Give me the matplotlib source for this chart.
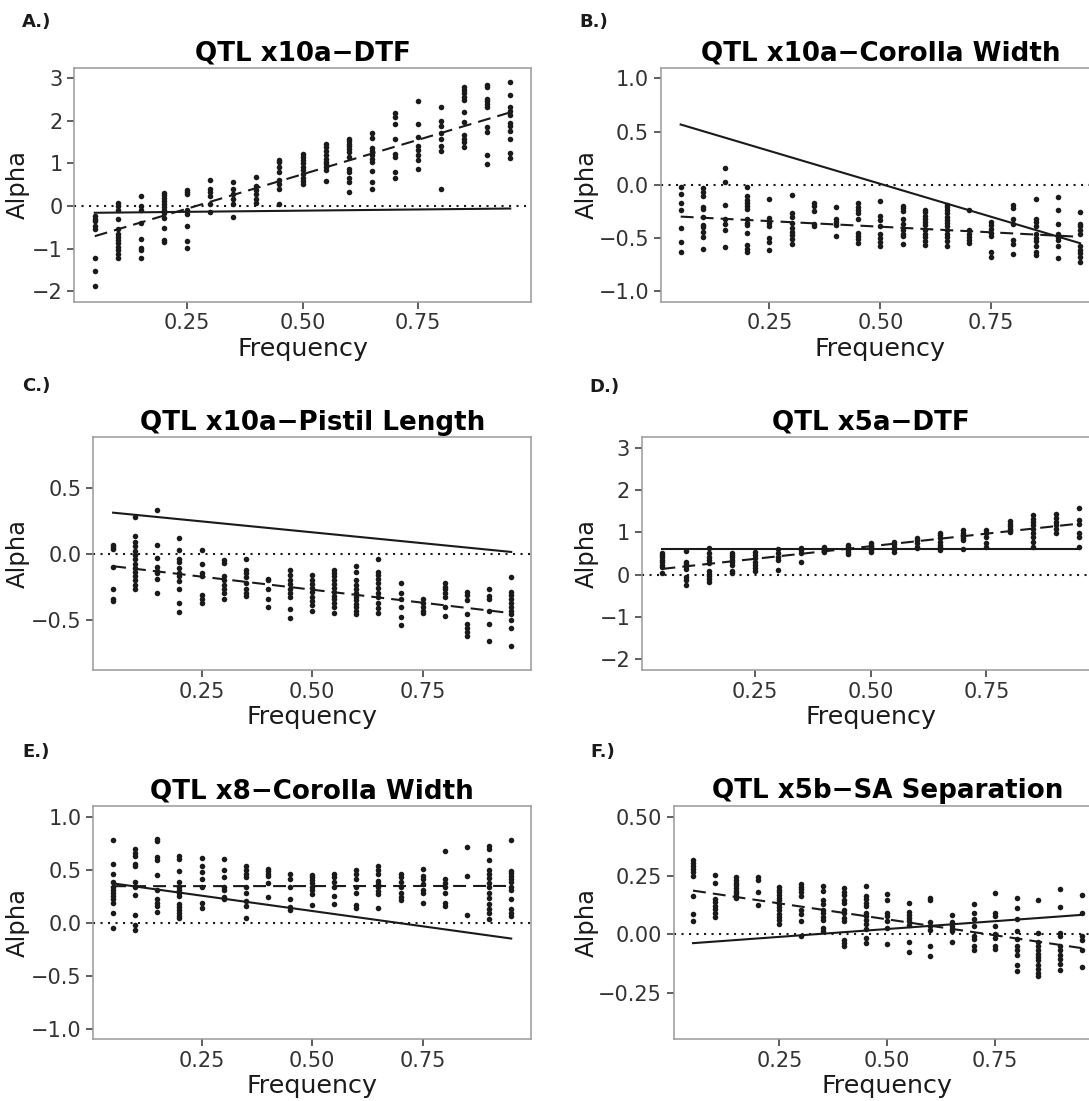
import numpy as np
import matplotlib.pyplot as plt

# allele frequency classes shared by every panel
freqs = [0.05, 0.10, 0.15, 0.20, 0.25, 0.30, 0.35, 0.40, 0.45, 0.50,
         0.55, 0.60, 0.65, 0.70, 0.75, 0.80, 0.85, 0.90, 0.95]

# A.) QTL x10a-DTF, one list of alpha values per frequency
x10a_dtf = [
    [-0.23, -0.30, -0.35, -0.47, -0.53, -1.23, -1.52, -1.88],
    [0.07, 0.0, -0.09, -0.31, -0.55, -0.65, -0.73, -0.80, -0.88, -0.96, -1.04, -1.12, -1.23],
    [0.23, 0.0, -0.09, -0.41, -0.77, -0.98, -1.04, -1.23],
    [0.31, 0.25, 0.19, 0.12, 0.05, -0.02, -0.09, -0.16, -0.29, -0.52, -0.79, -0.85],
    [0.38, 0.32, 0.27, -0.10, -0.20, -0.46, -0.83, -0.98],
    [0.60, 0.41, 0.34, 0.23, 0.05, -0.14],
    [0.56, 0.39, 0.27, 0.17, 0.05, -0.26],
    [0.67, 0.48, 0.37, 0.27, 0.17, 0.07],
    [1.09, 1.03, 0.91, 0.80, 0.60, 0.51, 0.41, 0.05],
    [1.21, 1.15, 1.09, 1.02, 0.91, 0.84, 0.74, 0.66, 0.59, 0.52],
    [1.45, 1.38, 1.30, 1.19, 1.11, 1.03, 0.98, 0.91, 0.84, 0.59],
    [1.58, 1.52, 1.46, 1.40, 1.34, 1.27, 1.15, 0.86, 0.80, 0.66, 0.56, 0.33],
    [1.72, 1.59, 1.37, 1.29, 1.19, 1.11, 1.03, 0.82, 0.56, 0.41],
    [2.18, 2.09, 1.93, 1.58, 1.23, 1.16, 0.80, 0.66],
    [2.46, 1.93, 1.63, 1.42, 1.32, 1.19, 1.09, 0.88],
    [2.32, 1.99, 1.89, 1.71, 1.58, 1.40, 1.30, 0.41],
    [2.79, 2.73, 2.65, 2.57, 2.48, 2.20, 1.98, 1.66, 1.58, 1.50, 1.38],
    [2.85, 2.79, 2.52, 2.46, 2.40, 2.32, 1.85, 1.73, 1.19, 0.98],
    [2.91, 2.61, 2.32, 2.24, 2.13, 1.95, 1.89, 1.76, 1.58, 1.24, 1.13],
]
x10a_dtf_fit = [-0.71, 2.20]
x10a_dtf_null = [-0.16, -0.06]

# B.) QTL x10a-Corolla Width
x10a_cw = [
    [-0.02, -0.09, -0.17, -0.24, -0.41, -0.54, -0.63],
    [-0.03, -0.07, -0.11, -0.21, -0.23, -0.30, -0.38, -0.40, -0.44, -0.49, -0.60],
    [0.16, 0.03, -0.19, -0.32, -0.37, -0.43, -0.59],
    [-0.02, -0.11, -0.14, -0.17, -0.20, -0.23, -0.32, -0.36, -0.38, -0.45, -0.57, -0.60, -0.63],
    [-0.13, -0.31, -0.36, -0.39, -0.50, -0.54, -0.61],
    [-0.10, -0.27, -0.30, -0.36, -0.41, -0.44, -0.47, -0.51, -0.56],
    [-0.17, -0.20, -0.25, -0.37, -0.39],
    [-0.21, -0.32, -0.35, -0.38, -0.48],
    [-0.17, -0.21, -0.24, -0.27, -0.32, -0.45, -0.48, -0.51, -0.55],
    [-0.15, -0.29, -0.33, -0.39, -0.46, -0.50, -0.54, -0.58],
    [-0.20, -0.22, -0.25, -0.32, -0.37, -0.43, -0.46, -0.48, -0.56],
    [-0.24, -0.26, -0.29, -0.32, -0.35, -0.38, -0.43, -0.46, -0.49, -0.53, -0.57],
    [-0.19, -0.21, -0.24, -0.27, -0.30, -0.33, -0.36, -0.39, -0.43, -0.46, -0.49, -0.53, -0.58],
    [-0.24, -0.43, -0.46, -0.49, -0.52, -0.55],
    [-0.35, -0.38, -0.42, -0.45, -0.48, -0.63, -0.68],
    [-0.19, -0.22, -0.32, -0.37, -0.52, -0.56, -0.65],
    [-0.13, -0.32, -0.35, -0.39, -0.46, -0.50, -0.53, -0.58, -0.63, -0.66],
    [-0.12, -0.24, -0.37, -0.46, -0.49, -0.52, -0.58, -0.69],
    [-0.26, -0.37, -0.39, -0.43, -0.46, -0.58, -0.61, -0.64, -0.68, -0.73],
]
x10a_cw_fit = [-0.30, -0.49]
x10a_cw_null = [0.566, -0.55]

# C.) QTL x10a-Pistil Length
x10a_pl = [
    [0.065, 0.048, 0.033, -0.10, -0.27, -0.34, -0.36],
    [0.28, 0.13, 0.09, 0.06, 0.02, -0.01, -0.04, -0.08, -0.11, -0.14, -0.17, -0.20, -0.24, -0.27],
    [0.33, 0.065, -0.035, -0.10, -0.13, -0.15, -0.19, -0.30],
    [0.12, 0.03, -0.04, -0.06, -0.11, -0.15, -0.17, -0.21, -0.27, -0.37, -0.44],
    [0.03, -0.08, -0.15, -0.17, -0.31, -0.34, -0.37],
    [-0.05, -0.07, -0.17, -0.20, -0.24, -0.27, -0.30, -0.34],
    [-0.04, -0.12, -0.15, -0.18, -0.22, -0.27, -0.30, -0.32],
    [-0.19, -0.20, -0.27, -0.34, -0.40],
    [-0.12, -0.16, -0.20, -0.23, -0.27, -0.30, -0.33, -0.42, -0.49],
    [-0.16, -0.20, -0.23, -0.26, -0.29, -0.33, -0.36, -0.39, -0.43],
    [-0.12, -0.15, -0.17, -0.20, -0.23, -0.26, -0.29, -0.32, -0.34, -0.37, -0.40, -0.45],
    [-0.09, -0.14, -0.20, -0.24, -0.27, -0.30, -0.33, -0.35, -0.38, -0.40, -0.43, -0.46],
    [-0.04, -0.14, -0.16, -0.19, -0.22, -0.26, -0.30, -0.33, -0.37, -0.41, -0.45],
    [-0.22, -0.30, -0.34, -0.40, -0.48, -0.54],
    [-0.34, -0.37, -0.40, -0.43, -0.45],
    [-0.22, -0.25, -0.27, -0.30, -0.33, -0.40, -0.47],
    [-0.29, -0.31, -0.35, -0.46, -0.53, -0.56, -0.59, -0.62],
    [-0.27, -0.32, -0.34, -0.43, -0.53, -0.66],
    [-0.18, -0.29, -0.31, -0.34, -0.37, -0.40, -0.43, -0.46, -0.50, -0.56, -0.70],
]
x10a_pl_fit = [-0.095, -0.45]
x10a_pl_null = [0.31, 0.013]

# D.) QTL x5a-DTF
x5a_dtf = [
    [0.52, 0.47, 0.41, 0.35, 0.30, 0.24, 0.18, 0.04],
    [0.57, 0.31, 0.26, 0.20, 0.13, -0.05, -0.13, -0.23],
    [0.63, 0.52, 0.43, 0.35, 0.29, 0.10, 0.02, -0.04, -0.10, -0.18],
    [0.52, 0.47, 0.41, 0.35, 0.30, 0.24, 0.08, 0.04],
    [0.55, 0.47, 0.39, 0.31, 0.23, 0.16, 0.08],
    [0.60, 0.51, 0.43, 0.35, 0.12],
    [0.63, 0.59, 0.51, 0.31],
    [0.65, 0.59, 0.54],
    [0.70, 0.65, 0.59, 0.55, 0.48],
    [0.76, 0.70, 0.65, 0.59, 0.55],
    [0.78, 0.73, 0.66, 0.60, 0.55],
    [0.88, 0.82, 0.76, 0.66, 0.63],
    [0.99, 0.94, 0.86, 0.78, 0.70, 0.65, 0.59],
    [1.05, 0.99, 0.94, 0.88, 0.82, 0.60],
    [1.07, 0.98, 0.90, 0.76, 0.65],
    [1.27, 1.21, 1.15, 1.09, 1.02],
    [1.41, 1.33, 1.25, 1.17, 1.09, 0.98, 0.90, 0.78, 0.66],
    [1.43, 1.35, 1.25, 1.17, 1.09, 0.98],
    [1.59, 1.29, 1.21, 0.98, 0.90, 0.65],
]
x5a_dtf_fit = [0.14, 1.21]
x5a_dtf_null = [0.61, 0.61]

# E.) QTL x8-Corolla Width
x8_cw = [
    [0.78, 0.55, 0.46, 0.38, 0.34, 0.31, 0.28, 0.25, 0.22, 0.19, 0.09, -0.05],
    [0.69, 0.66, 0.63, 0.55, 0.53, 0.38, 0.34, 0.26, 0.07, -0.02, -0.07],
    [0.79, 0.77, 0.62, 0.59, 0.45, 0.31, 0.22, 0.19, 0.16, 0.10],
    [0.63, 0.60, 0.49, 0.38, 0.34, 0.31, 0.28, 0.25, 0.18, 0.15, 0.12, 0.09, 0.06, 0.04],
    [0.61, 0.53, 0.48, 0.41, 0.34, 0.19, 0.14],
    [0.60, 0.50, 0.43, 0.34, 0.31, 0.24, 0.22],
    [0.53, 0.50, 0.46, 0.43, 0.34, 0.28, 0.20, 0.16, 0.04],
    [0.51, 0.49, 0.46, 0.44, 0.37, 0.24],
    [0.46, 0.41, 0.34, 0.22, 0.15, 0.12],
    [0.45, 0.43, 0.40, 0.37, 0.34, 0.31, 0.27, 0.17],
    [0.46, 0.43, 0.38, 0.34, 0.25, 0.18],
    [0.50, 0.46, 0.41, 0.34, 0.28, 0.17, 0.14],
    [0.53, 0.50, 0.46, 0.39, 0.36, 0.34, 0.30, 0.27, 0.14],
    [0.46, 0.43, 0.38, 0.34, 0.28, 0.24, 0.21],
    [0.51, 0.44, 0.41, 0.36, 0.31, 0.28, 0.19],
    [0.68, 0.41, 0.37, 0.34, 0.28, 0.19, 0.16],
    [0.71, 0.44, 0.07],
    [0.72, 0.69, 0.59, 0.50, 0.46, 0.42, 0.37, 0.34, 0.28, 0.23, 0.18, 0.13, 0.09, 0.03],
    [0.78, 0.49, 0.47, 0.44, 0.41, 0.38, 0.34, 0.31, 0.22, 0.13, 0.09, 0.06],
]
x8_cw_fit = [0.344, 0.346]
x8_cw_null = [0.37, -0.15]

# F.) QTL x5b-SA Separation
x5b_sa = [
    [0.316, 0.302, 0.291, 0.277, 0.263, 0.249, 0.164, 0.086, 0.059],
    [0.253, 0.220, 0.150, 0.136, 0.121, 0.107, 0.093, 0.076],
    [0.243, 0.232, 0.220, 0.209, 0.198, 0.186, 0.175, 0.164, 0.153],
    [0.243, 0.232, 0.182, 0.126],
    [0.200, 0.189, 0.178, 0.167, 0.155, 0.144, 0.130, 0.116, 0.102, 0.088, 0.076, 0.062, 0.045],
    [0.215, 0.203, 0.192, 0.178, 0.164, 0.102, 0.088, 0.059, -0.006],
    [0.206, 0.186, 0.144, 0.130, 0.105, 0.090, 0.076, 0.062, 0.027, 0.013],
    [0.196, 0.182, 0.168, 0.147, 0.133, 0.105, 0.090, 0.069, 0.055, -0.025, -0.037, -0.048],
    [0.206, 0.164, 0.150, 0.133, 0.119, 0.093, 0.079, 0.062, 0.045, 0.023, -0.016, -0.037],
    [0.172, 0.144, 0.093, 0.079, 0.055, 0.027, -0.040],
    [0.133, 0.097, 0.083, 0.069, 0.055, 0.041, -0.030, -0.076],
    [0.154, 0.144, 0.051, 0.037, 0.020, -0.051, -0.090],
    [0.083, 0.051, 0.034, 0.023, 0.013, -0.030],
    [0.130, 0.093, 0.065, 0.034, -0.006, -0.020, -0.048, -0.065],
    [0.175, 0.093, 0.079, 0.034, 0.003, -0.016, -0.048, -0.062],
    [0.154, 0.112, 0.065, 0.013, -0.020, -0.048, -0.068, -0.086, -0.129, -0.157],
    [0.147, 0.006, -0.034, -0.051, -0.065, -0.082, -0.096, -0.110, -0.129, -0.147, -0.164, -0.175],
    [0.192, 0.116, 0.008, -0.006, -0.048, -0.068, -0.086, -0.105, -0.124, -0.153],
    [0.168, 0.093, -0.008, -0.025, -0.068, -0.138],
]
x5b_sa_fit = [0.186, -0.058]
x5b_sa_null = [-0.037, 0.083]

W, H = 1089, 1101
INK = "#1a1a1a"

fig = plt.figure(figsize=(W / 100, H / 100), dpi=100)


def px_axes(left, top, right, bottom):
    # pixel box (as measured on the reference) -> figure fraction
    return fig.add_axes([left / W, 1 - bottom / H, (right - left) / W, (bottom - top) / H])


def draw(ax, vals, fit, null, title, yticks, ylim, ylab_x):
    xs = [f for f, col in zip(freqs, vals) for _ in col]
    ys = [v for col in vals for v in col]
    ax.axhline(0, color=INK, lw=1.5, ls=(0, (1, 2.6)), zorder=1)
    ax.scatter(xs, ys, s=16, color=INK, linewidths=0, zorder=2)
    ends = [freqs[0], freqs[-1]]
    ax.plot(ends, null, color=INK, lw=1.5, zorder=3)
    ax.plot(ends, fit, color=INK, lw=1.5, ls=(0, (6.2, 3.4)), zorder=3)
    ax.set_xlim(0.005, 0.995)
    ax.set_ylim(*ylim)
    ax.set_xticks([0.25, 0.50, 0.75])
    ax.set_yticks(yticks)
    ax.set_title(title, fontsize=18.8, fontweight="bold", pad=5.5)
    ax.set_xlabel("Frequency", fontsize=18.3, color=INK)
    ax.xaxis.set_label_coords(0.5, -0.150)
    ax.set_ylabel("Alpha", fontsize=17.5, color=INK)
    ax.yaxis.set_label_coords(ylab_x, 0.5)
    ax.tick_params(direction="out", length=5.3, width=1.1, color="#333333",
                   labelsize=15, labelcolor="#333333", pad=3)
    for sp in ax.spines.values():
        sp.set_color("#9a9a9a")
        sp.set_linewidth(1.1)


axA = px_axes(74, 67.7, 531, 301.7)
draw(axA, x10a_dtf, x10a_dtf_fit, x10a_dtf_null, "QTL x10a\u2212DTF",
     [-2, -1, 0, 1, 2, 3], (-2.25, 3.25), -0.0974)

axB = px_axes(660.7, 67.7, 1100, 301.7)
draw(axB, x10a_cw, x10a_cw_fit, x10a_cw_null, "QTL x10a\u2212Corolla Width",
     [-1.0, -0.5, 0.0, 0.5, 1.0], (-1.1, 1.1), -0.1407)

axC = px_axes(93.2, 437.3, 531.1, 670)
draw(axC, x10a_pl, x10a_pl_fit, x10a_pl_null, "QTL x10a\u2212Pistil Length",
     [-0.5, 0.0, 0.5], (-0.88, 0.88), -0.1455)

axD = px_axes(641.6, 437.3, 1099.8, 670)
draw(axD, x5a_dtf, x5a_dtf_fit, x5a_dtf_null, "QTL x5a\u2212DTF",
     [-2, -1, 0, 1, 2, 3], (-2.25, 3.25), -0.0932)

axE = px_axes(93.2, 806, 531.1, 1039.3)
draw(axE, x8_cw, x8_cw_fit, x8_cw_null, "QTL x8\u2212Corolla Width",
     [-1.0, -0.5, 0.0, 0.5, 1.0], (-1.1, 1.1), -0.1455)

axF = px_axes(673.6, 806, 1101, 1039.3)
draw(axF, x5b_sa, x5b_sa_fit, x5b_sa_null, "QTL x5b\u2212SA Separation",
     [-0.25, 0.00, 0.25, 0.50], (-0.445, 0.545), -0.1748)

# panel letters
for lab, x, y in [("A.)", 21.7, 27.3), ("B.)", 579.8, 27.3), ("C.)", 22.6, 390.7),
                  ("D.)", 589.5, 392.3), ("E.)", 22.6, 757.3), ("F.)", 590, 757.3)]:
    fig.text(x / W, 1 - y / H, lab, fontsize=13, fontweight="bold",
             color=INK, va="baseline", ha="left")

fig.savefig("out.png", dpi=100)
